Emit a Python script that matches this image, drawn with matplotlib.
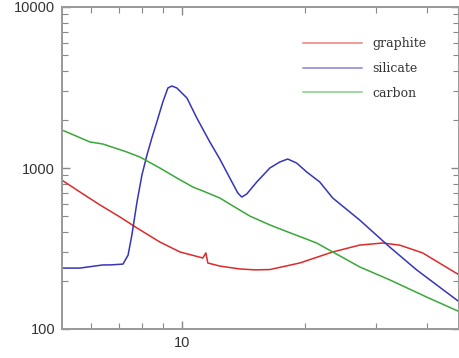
import numpy as np
import matplotlib
matplotlib.use("Agg")
import matplotlib.pyplot as plt
from matplotlib.ticker import LogLocator, FuncFormatter, NullFormatter

# graphite (rojo)
x_graf = [5.08, 5.62, 6.30, 7.05, 7.76, 8.83, 9.89, 11.26, 11.45, 11.58, 12.39,
          13.87, 15.1, 16.44, 19.46, 23.45, 27.31, 31.09, 34.22, 38.96, 43.62, 48.0]
y_graf = [840, 710, 589, 496, 424, 347, 301, 276, 297, 257, 246,
          236, 233, 234, 257, 301, 332, 342, 332, 297, 250, 216]

# silicate (azul)
x_sil = [5.08, 5.62, 6.40, 6.66, 7.17, 7.38, 7.54, 7.76, 7.98, 8.21, 8.44, 8.68,
         8.98, 9.24, 9.45, 9.72, 10.29, 10.88, 11.71, 12.39, 13.11, 13.72,
         14.03, 14.43, 15.27, 16.44, 17.39, 18.19, 19.13, 20.25, 21.79, 23.45,
         27.31, 32.35, 37.67, 48.0]
y_sil = [239, 239, 250, 250, 253, 288, 384, 615, 905, 1204, 1536, 1931,
         2570, 3140, 3231, 3140, 2721, 2045, 1451, 1137, 867, 699,
         660, 690, 819, 1000, 1090, 1137, 1073, 944, 819, 651,
         475, 323, 233, 147]

# carbon (verde)
x_carb = [5.08, 5.95, 6.40, 7.33, 7.89, 8.83, 9.72, 10.64, 11.26, 12.39, 13.87,
          14.68, 16.44, 17.68, 21.42, 23.45, 27.31, 32.35, 39.85, 48.0]
y_carb = [1722, 1451, 1409, 1257, 1170, 1000, 867, 762, 720, 651, 548,
          503, 443, 412, 342, 301, 243, 202, 158, 128]

etiquetas = ["graphite", "silicate", "carbon"]

fig = plt.figure(figsize=(4.6, 3.58), dpi=100, facecolor="white")
ax = fig.add_axes([62/460, 1 - 329/358, (459.5 - 62)/460, (329 - 7)/358])

ax.plot(x_graf, y_graf, color="#dd2a2a", lw=1.1, label=etiquetas[0])
ax.plot(x_sil, y_sil, color="#3535b8", lw=1.1, label=etiquetas[1])
ax.plot(x_carb, y_carb, color="#38a838", lw=1.1, label=etiquetas[2])

ax.set_xscale("log")
ax.set_yscale("log")
ax.set_xlim(5.08, 48.0)
ax.set_ylim(100, 10000)

ax.xaxis.set_major_locator(LogLocator(base=10))
ax.xaxis.set_minor_locator(LogLocator(base=10, subs=np.arange(2, 10)))
ax.xaxis.set_minor_formatter(NullFormatter())
ax.xaxis.set_major_formatter(FuncFormatter(lambda v, p: "%d" % v))
ax.yaxis.set_major_formatter(FuncFormatter(lambda v, p: "%d" % v))
ax.yaxis.set_minor_formatter(NullFormatter())

for s in ax.spines.values():
    s.set_color("#999999")
    s.set_linewidth(1.4)

ax.tick_params(which="both", direction="in", top=True, right=True,
               color="#888888", labelcolor="#333333", labelsize=10.5)
ax.tick_params(which="major", length=6, width=1.0, pad=5)
ax.tick_params(which="minor", length=4, width=0.8)
for t in ax.get_xticklabels() + ax.get_yticklabels():
    t.set_family("Liberation Sans")

leg = ax.legend(loc="upper left", bbox_to_anchor=(303/460, 1 - 37/358),
                bbox_transform=fig.transFigure, frameon=False,
                borderpad=0, borderaxespad=0, handlelength=4.7,
                handletextpad=0.85, labelspacing=0.95,
                prop={"family": "DejaVu Serif", "size": 9})
for txt in leg.get_texts():
    txt.set_color("#333333")
for ln in leg.get_lines():
    ln.set_alpha(0.6)

plt.savefig("out.png", dpi=100, facecolor="white")
